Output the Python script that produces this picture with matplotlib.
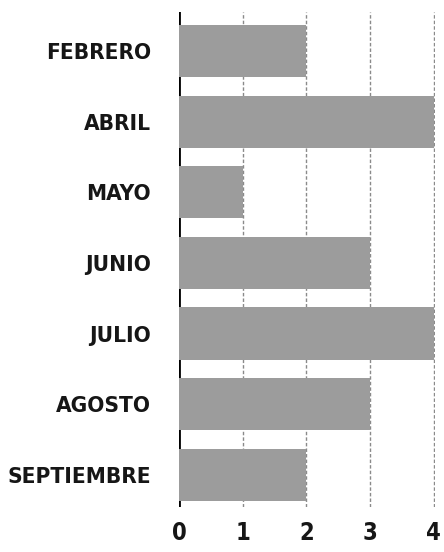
import matplotlib
matplotlib.use("Agg")
import matplotlib.pyplot as plt
from matplotlib import font_manager

categories = ["FEBRERO", "ABRIL", "MAYO", "JUNIO", "JULIO", "AGOSTO", "SEPTIEMBRE"]
values = [2, 4, 1, 3, 4, 3, 2]
xticks = [0, 1, 2, 3, 4]

names = {f.name for f in font_manager.fontManager.ttflist}
fam = "Liberation Sans Narrow" if "Liberation Sans Narrow" in names else "DejaVu Sans"

fig = plt.figure(figsize=(4.44, 5.52), dpi=100)
ax = fig.add_axes([0.403, 0.082, 0.577, 0.896])

y = list(range(len(categories)))
ax.barh(y, values, height=0.74, color="#9c9c9c", zorder=3)
ax.set_ylim(len(categories) - 0.55, -0.55)
ax.set_xlim(0, 4.02)

for x in xticks[1:]:
    ax.axvline(x, color="#8a8a8a", lw=1.0, ls=(0, (2.5, 1.5)), zorder=1)
ax.axvline(0, color="black", lw=2.0, zorder=2)

for s in ax.spines.values():
    s.set_visible(False)

ax.set_yticks(y)
ax.set_yticklabels(categories)
ax.set_xticks(xticks)
ax.set_xticklabels([str(v) for v in xticks])
ax.tick_params(axis="y", length=0, pad=20)
ax.tick_params(axis="x", length=0, pad=10)
for lab in ax.get_yticklabels():
    lab.set_fontfamily(fam)
    lab.set_fontstretch("condensed")
    lab.set_fontweight("bold")
    lab.set_fontsize(16.2)
    lab.set_color("#161616")
for lab in ax.get_xticklabels():
    lab.set_fontfamily(fam)
    lab.set_fontstretch("condensed")
    lab.set_fontweight("bold")
    lab.set_fontsize(17)
    lab.set_color("#161616")

fig.savefig("out.png", dpi=100)
